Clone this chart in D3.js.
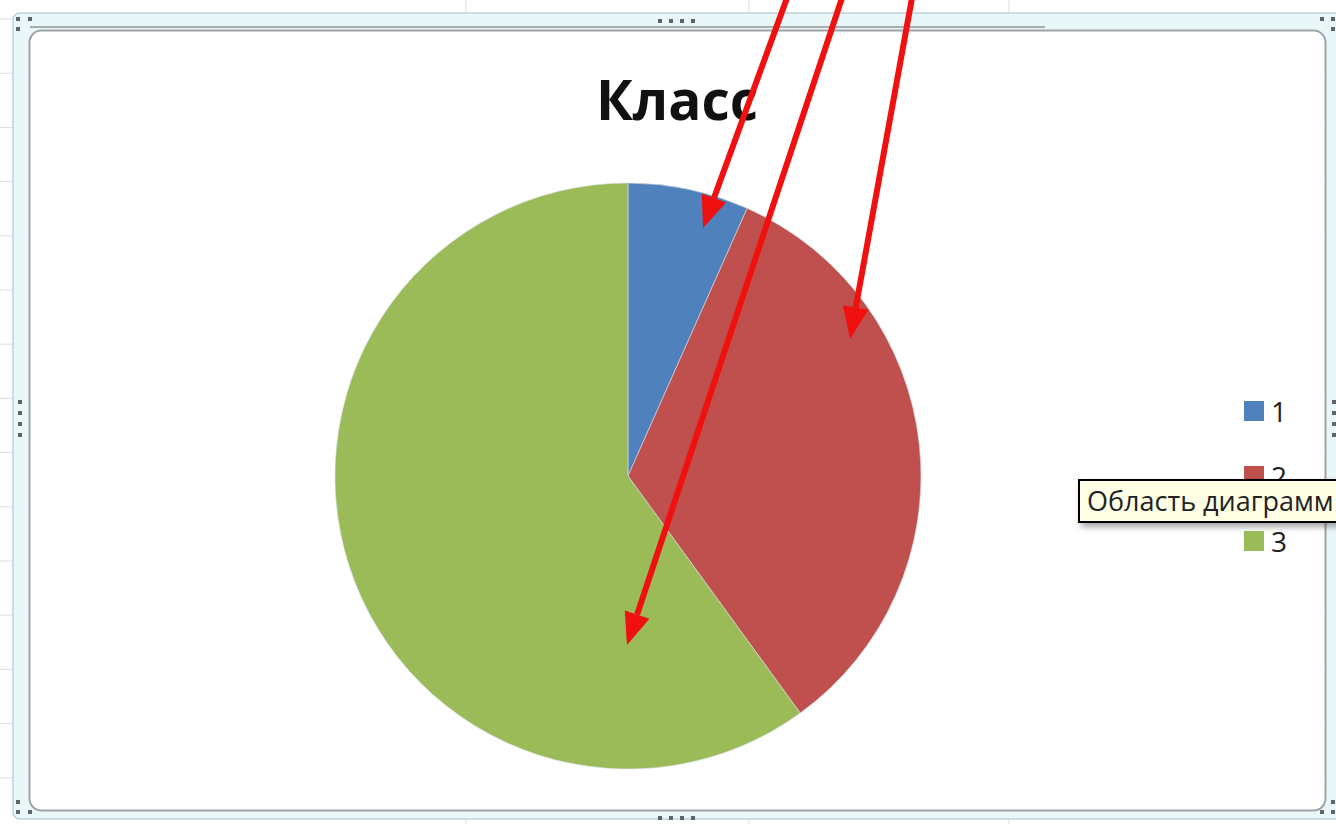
<!DOCTYPE html>
<html><head><meta charset="utf-8">
<script src="https://cdn.jsdelivr.net/npm/d3@7"></script>
<style>html,body{margin:0;padding:0;background:#fff;overflow:hidden}</style>
</head><body>
<script>
const categories = ["1", "2", "3"];
const values = [2, 10, 18];
const colors = ["#4f81bd", "#c0504d", "#9bbb59"];
const chartTitle = "Класс";
const tooltipText = "Область диаграмм";

const W = 1336, H = 824;
const svg = d3.select("body").append("svg").attr("width", W).attr("height", H);
const defs = svg.append("defs");
const f = defs.append("filter").attr("id", "sh").attr("x", "-10%").attr("y", "-30%").attr("width", "130%").attr("height", "180%");
f.append("feDropShadow").attr("dx", 3).attr("dy", 4).attr("stdDeviation", 3).attr("flood-color", "#000").attr("flood-opacity", 0.35);
defs.append("clipPath").attr("id", "above").append("rect").attr("x", 0).attr("y", 0).attr("width", W).attr("height", 481);

// Excel sheet grid
const g0 = svg.append("g");
[466, 749, 1009].forEach(x => g0.append("line").attr("x1", x).attr("x2", x).attr("y1", 0).attr("y2", H).attr("stroke", "#d9dee5"));
d3.range(19, H, 54.2).forEach(y => g0.append("line").attr("x1", 0).attr("x2", W).attr("y1", y).attr("y2", y).attr("stroke", "#d9dee5"));

// selection frame
svg.append("rect").attr("x", 13).attr("y", 13).attr("width", 1340).attr("height", 806).attr("rx", 7)
  .attr("fill", "#e8f6f8").attr("fill-opacity", 0.9).attr("stroke", "#bcd3da").attr("stroke-width", 1.5);
svg.append("line").attr("x1", 30).attr("x2", 1045).attr("y1", 27).attr("y2", 27).attr("stroke", "#a8adb1").attr("stroke-width", 2);
svg.append("rect").attr("x", 29.5).attr("y", 30.5).attr("width", 1296).attr("height", 780).attr("rx", 12)
  .attr("fill", "#fff").attr("stroke", "#9ea3a7").attr("stroke-width", 2);

// handles
const hd = svg.append("g").attr("fill", "#5f6468");
[[18,19],[18,29],[30,19],[18,802],[18,812],[30,812],[1322,19],[1333,19],[1333,29],[1322,812],[1333,812],[1333,802]]
  .forEach(p => hd.append("rect").attr("x", p[0]-2).attr("y", p[1]-2).attr("width", 4).attr("height", 4));
[660, 671, 682, 693].forEach(x => { hd.append("rect").attr("x", x-2).attr("y", 19).attr("width", 4).attr("height", 4);
  hd.append("rect").attr("x", x-2).attr("y", 816).attr("width", 4).attr("height", 4); });
[402, 413, 424, 435].forEach(y => { hd.append("rect").attr("x", 18).attr("y", y-2).attr("width", 4).attr("height", 4);
  hd.append("rect").attr("x", 1332).attr("y", y-2).attr("width", 4).attr("height", 4); });

// pie
const cx = 628, cy = 476, R = 293;
const pie = d3.pie().sort(null).value(d => d);
const arc = d3.arc().innerRadius(0).outerRadius(R);
svg.append("g").attr("transform", `translate(${cx},${cy})`)
  .selectAll("path").data(pie(values)).join("path")
  .attr("d", arc).attr("fill", (d, i) => colors[i]).attr("stroke", "#d8dde6").attr("stroke-width", 0.6);

// title
svg.append("text").attr("x", 677).attr("y", 120).attr("text-anchor", "middle")
  .attr("font-family", "Open Sans, sans-serif").attr("font-weight", "bold").attr("font-size", 55)
  .attr("fill", "#111").text(chartTitle);

// legend
const ly = d3.scalePoint().domain(categories).range([411, 541]);
const lg = svg.append("g");
categories.forEach((c, i) => {
  lg.append("rect").attr("x", 1244).attr("y", ly(c) - 10).attr("width", 20).attr("height", 20).attr("fill", colors[i]);
  lg.append("text").attr("x", 1271).attr("y", ly(c) + 11).attr("font-family", "Open Sans, sans-serif")
    .attr("font-size", 28).attr("fill", "#222").text(c);
});

// red arrows
const arrows = [[787, -2, 703, 228], [842, -2, 627, 645], [912, -2, 850, 339]];
const ag = svg.append("g");
arrows.forEach(a => {
  const [x1, y1, x2, y2] = a;
  const ang = Math.atan2(y2 - y1, x2 - x1);
  const L = 32, Wd = 13;
  const bx = x2 - L * Math.cos(ang), by = y2 - L * Math.sin(ang);
  ag.append("line").attr("x1", x1).attr("y1", y1).attr("x2", bx).attr("y2", by)
    .attr("stroke", "#f01010").attr("stroke-width", 6);
  const px = -Math.sin(ang) * Wd, py = Math.cos(ang) * Wd;
  ag.append("path").attr("d", `M${x2},${y2}L${bx+px},${by+py}L${bx-px},${by-py}Z`).attr("fill", "#f01010");
});

// tooltip
svg.append("rect").attr("x", 1079).attr("y", 480).attr("width", 280).attr("height", 42)
  .attr("fill", "#ffffe6").attr("stroke", "#000").attr("stroke-width", 2).attr("filter", "url(#sh)");
svg.append("text").attr("x", 1087).attr("y", 511).attr("font-family", "Open Sans, sans-serif")
  .attr("font-size", 27).attr("fill", "#222").text(tooltipText);
</script>
</body></html>
